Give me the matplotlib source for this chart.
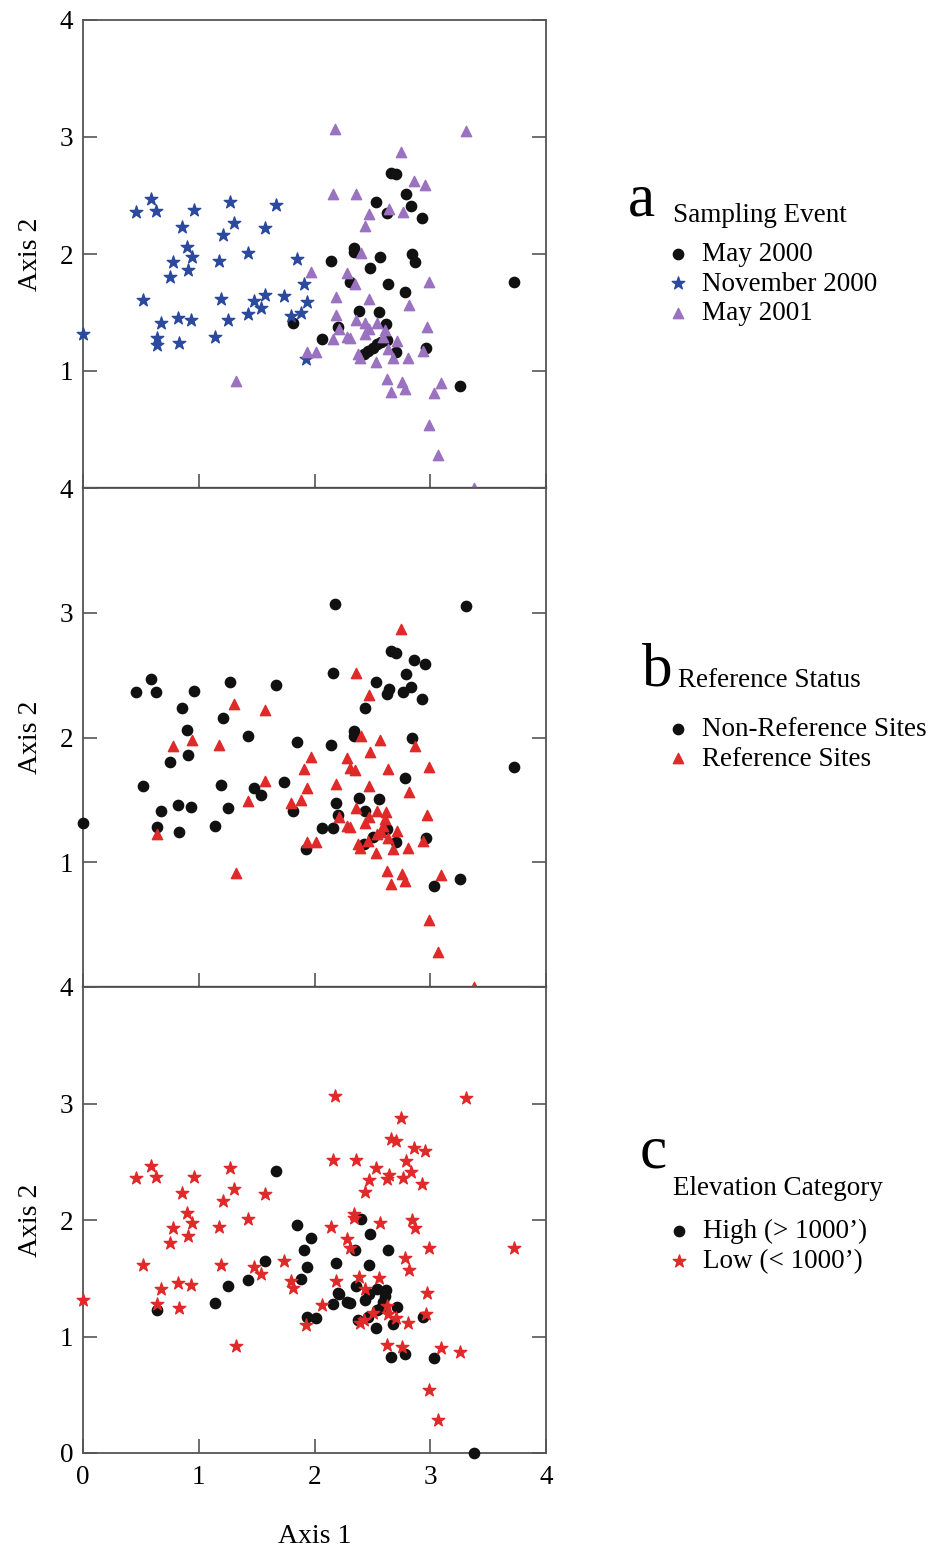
import numpy as np
import matplotlib.pyplot as plt

plt.rcParams['font.family'] = ['Liberation Serif', 'DejaVu Serif']

# ordination scores, grouped by sampling event
# ref: R = reference site, N = non-reference ; elev: H = high (>1000'), L = low (<1000')
may2000_x = [1.81, 2.658, 2.70, 2.531, 2.79, 2.834, 2.629, 2.929, 2.339, 2.339, 2.143,
             2.566, 2.845, 2.868, 2.48, 2.304, 2.632, 2.779, 3.724, 2.384, 2.56, 2.20,
             2.62, 2.067, 2.629, 2.70, 2.96, 3.254, 2.428, 2.465, 2.503, 2.543, 2.575]
may2000_y = [1.413, 2.695, 2.681, 2.444, 2.51, 2.408, 2.35, 2.31, 2.054, 2.014, 1.94,
             1.977, 2.0, 1.934, 1.883, 1.758, 1.744, 1.678, 1.763, 1.513, 1.504, 1.376,
             1.399, 1.271, 1.265, 1.162, 1.197, 0.869, 1.143, 1.171, 1.199, 1.228, 1.245]
may2000_ref = ['N', 'N', 'N', 'N', 'N', 'N', 'N', 'N', 'N', 'N', 'N',
               'R', 'N', 'R', 'R', 'R', 'R', 'N', 'N', 'N', 'N', 'N',
               'R', 'N', 'N', 'N', 'N', 'N', 'N', 'R', 'N', 'R', 'R']
may2000_elev = ['L', 'L', 'L', 'L', 'L', 'L', 'L', 'L', 'L', 'L', 'L',
                'L', 'L', 'L', 'H', 'L', 'H', 'L', 'L', 'L', 'L', 'H',
                'H', 'L', 'L', 'L', 'L', 'L', 'L', 'H', 'L', 'H', 'H']

nov2000_x = [0.585, 0.458, 0.628, 0.956, 1.27, 1.665, 1.302, 0.858, 1.21, 1.57, 0.898,
             0.944, 0.778, 0.904, 0.754, 1.178, 1.423, 1.849, 0.521, 1.192, 1.48, 1.575,
             1.535, 1.423, 1.739, 1.906, 1.932, 1.88, 1.797, 0.671, 0.821, 0.93, 1.256,
             0.0, 0.636, 0.636, 0.829, 1.138, 1.93]
nov2000_y = [2.467, 2.362, 2.367, 2.373, 2.444, 2.42, 2.268, 2.234, 2.16, 2.22, 2.063,
             1.977, 1.929, 1.863, 1.80, 1.943, 2.011, 1.96, 1.61, 1.618, 1.598, 1.65,
             1.536, 1.487, 1.644, 1.746, 1.593, 1.496, 1.473, 1.41, 1.456, 1.439, 1.436,
             1.316, 1.279, 1.225, 1.242, 1.29, 1.103]
nov2000_ref = ['N', 'N', 'N', 'N', 'N', 'N', 'R', 'N', 'N', 'R', 'N',
               'R', 'R', 'N', 'N', 'R', 'N', 'N', 'N', 'N', 'N', 'R',
               'N', 'R', 'N', 'R', 'R', 'R', 'R', 'N', 'N', 'N', 'N',
               'N', 'N', 'R', 'N', 'N', 'N']
nov2000_elev = ['L', 'L', 'L', 'L', 'L', 'H', 'L', 'L', 'L', 'L', 'L',
                'L', 'L', 'L', 'L', 'L', 'L', 'H', 'L', 'L', 'L', 'H',
                'L', 'H', 'L', 'H', 'H', 'H', 'L', 'L', 'L', 'L', 'H',
                'L', 'L', 'H', 'L', 'H', 'L']

may2001_x = [2.174, 3.306, 2.744, 2.163, 2.359, 2.857, 2.955, 2.471, 2.644, 2.765, 2.436,
             2.402, 1.967, 2.278, 2.35, 2.989, 2.183, 2.468, 2.816, 2.183, 2.359, 2.436,
             2.537, 2.471, 2.209, 2.969, 2.278, 2.307, 2.163, 2.439, 2.609, 2.595, 2.716,
             2.638, 2.681, 2.378, 2.393, 2.529, 2.805, 2.935, 1.932, 2.010, 2.629, 2.658,
             2.756, 2.782, 3.096, 3.03, 2.989, 3.064, 3.375, 1.322]
may2001_y = [3.068, 3.051, 2.872, 2.516, 2.516, 2.621, 2.592, 2.342, 2.385, 2.362, 2.237,
             2.011, 1.843, 1.835, 1.741, 1.763, 1.63, 1.613, 1.567, 1.476, 1.436, 1.408,
             1.408, 1.362, 1.362, 1.376, 1.293, 1.285, 1.276, 1.313, 1.350, 1.293, 1.254,
             1.191, 1.108, 1.145, 1.114, 1.077, 1.114, 1.168, 1.165, 1.160, 0.929, 0.823,
             0.909, 0.849, 0.897, 0.812, 0.541, 0.279, 0.0, 0.917]
may2001_ref = ['N', 'N', 'R', 'N', 'R', 'N', 'N', 'R', 'N', 'N', 'N',
               'R', 'R', 'R', 'R', 'R', 'R', 'R', 'R', 'N', 'R', 'N',
               'R', 'R', 'R', 'R', 'R', 'R', 'N', 'R', 'R', 'R', 'R',
               'R', 'R', 'R', 'R', 'R', 'R', 'R', 'R', 'R', 'R', 'R',
               'R', 'R', 'R', 'N', 'R', 'R', 'R', 'R']
may2001_elev = ['L', 'L', 'L', 'L', 'L', 'L', 'L', 'L', 'L', 'L', 'L',
                'H', 'H', 'L', 'H', 'L', 'H', 'H', 'L', 'L', 'H', 'L',
                'H', 'H', 'H', 'L', 'H', 'H', 'H', 'H', 'H', 'H', 'H',
                'L', 'H', 'H', 'L', 'H', 'L', 'H', 'H', 'H', 'L', 'H',
                'L', 'H', 'L', 'H', 'L', 'L', 'H', 'L']

event_labels = ['May 2000', 'November 2000', 'May 2001']
ref_labels = ['Non-Reference Sites', 'Reference Sites']
elev_labels = ['High (> 1000\u2019)', 'Low (< 1000\u2019)']

# all sites together for panels b and c
all_x = np.array(may2000_x + nov2000_x + may2001_x)
all_y = np.array(may2000_y + nov2000_y + may2001_y)
all_ref = np.array(may2000_ref + nov2000_ref + may2001_ref)
all_elev = np.array(may2000_elev + nov2000_elev + may2001_elev)

BLACK = '#111111'
BLUE = '#2b4a9e'
PURPLE = '#9a72c0'
RED = '#e02a2a'
W, H = 930, 1551


def px_box(left, top, right, bottom):
    return [left / W, 1 - bottom / H, (right - left) / W, (bottom - top) / H]


def style(ax, bottom_panel):
    ax.set_xlim(0, 4)
    ax.set_ylim(0, 4)
    ax.set_xticks(range(5))
    ax.set_yticks(range(5))
    ax.set_yticklabels(['0' if bottom_panel else '', '1', '2', '3', '4'])
    ax.tick_params(direction='in', length=10, width=1.2, color='#555555',
                   labelsize=19.5, right=True, top=False, labelbottom=bottom_panel)
    ax.tick_params(axis='y', pad=7)
    ax.tick_params(axis='x', pad=9)
    for s in ax.spines.values():
        s.set_color('#555555')
        s.set_linewidth(1.3)
    ax.set_ylabel('Axis 2', fontsize=20, labelpad=12)


def fig_xy(x, y):
    return (x / W, 1 - y / H)


fig = plt.figure(figsize=(9.3, 15.51), dpi=100)
ax_a = fig.add_axes(px_box(83, 20, 546, 488))
ax_b = fig.add_axes(px_box(83, 488, 546, 987))
ax_c = fig.add_axes(px_box(83, 987, 546, 1453))

leg_kw = dict(loc='upper left', bbox_transform=fig.transFigure, frameon=False,
              fontsize=19.5, borderpad=0, borderaxespad=0, handlelength=0.8,
              handletextpad=0.5, labelspacing=0.17)

# a: sampling event
h1 = ax_a.scatter(may2000_x, may2000_y, s=55, marker='o', color=BLACK, clip_on=False, zorder=3)
h2 = ax_a.scatter(nov2000_x, nov2000_y, s=90, marker='*', color=BLUE, clip_on=False, zorder=3)
h3 = ax_a.scatter(may2001_x, may2001_y, s=55, marker='^', color=PURPLE, clip_on=False, zorder=3)
style(ax_a, False)
ax_a.legend([h1, h2, h3], event_labels, bbox_to_anchor=fig_xy(667, 242), **leg_kw)
fig.text(*fig_xy(628, 216), 'a', fontsize=44, va='baseline')
fig.text(*fig_xy(673, 222), 'Sampling Event', fontsize=19.5, va='baseline')

# b: reference status
nonref = all_ref == 'N'
h4 = ax_b.scatter(all_x[nonref], all_y[nonref], s=55, marker='o', color=BLACK, clip_on=False, zorder=3)
h5 = ax_b.scatter(all_x[~nonref], all_y[~nonref], s=55, marker='^', color=RED, clip_on=False, zorder=3)
style(ax_b, False)
ax_b.legend([h4, h5], ref_labels, bbox_to_anchor=fig_xy(667, 717), **leg_kw)
fig.text(*fig_xy(642, 685), 'b', fontsize=44, va='baseline')
fig.text(*fig_xy(678, 687), 'Reference Status', fontsize=19.5, va='baseline')

# c: elevation category
high = all_elev == 'H'
h6 = ax_c.scatter(all_x[high], all_y[high], s=55, marker='o', color=BLACK, clip_on=False, zorder=3)
h7 = ax_c.scatter(all_x[~high], all_y[~high], s=90, marker='*', color=RED, clip_on=False, zorder=3)
style(ax_c, True)
ax_c.set_xlabel('Axis 1', fontsize=20, labelpad=24)
ax_c.legend([h6, h7], elev_labels, bbox_to_anchor=fig_xy(668, 1219), **leg_kw)
fig.text(*fig_xy(640, 1167), 'c', fontsize=44, va='baseline')
fig.text(*fig_xy(673, 1195), 'Elevation Category', fontsize=19.5, va='baseline')

# panel joins drawn darker, as in the original
for ax in (ax_a, ax_b):
    ax.spines['bottom'].set_color('black')
    ax.spines['bottom'].set_linewidth(1.6)

fig.savefig('out.png', dpi=100)
